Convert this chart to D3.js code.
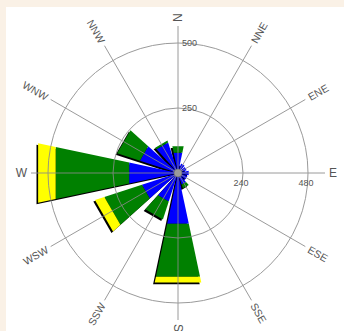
<!DOCTYPE html>
<html>
<head>
<meta charset="utf-8">
<script src="https://cdn.jsdelivr.net/npm/d3@7"></script>
<style>
  html, body { margin: 0; padding: 0; background: #faf1e6; }
  svg { display: block; }
  text { font-family: "Liberation Sans", Arial, sans-serif; fill: #555; }
</style>
</head>
<body>
<svg id="chart" width="344" height="331"></svg>
<script>
// ---- data ----
const directions = [0, 30, 60, 90, 120, 150, 180, 210, 240, 270, 300, 330];
const dirLabels = ["N", "NNE", "ENE", "E", "ESE", "SSE", "S", "SSW", "WSW", "W", "WNW", "NNW"];
const blueValues   = [80, 38, 35, 42, 38, 46, 200, 115, 146, 192, 154, 123];
const greenValues  = [25, 0, 0, 0, 0, 16, 208, 73, 152, 289, 92, 8];
const yellowValues = [0, 0, 0, 0, 0, 0, 23, 0, 38, 69, 0, 0];
const circleTicks = [250, 500];
const nTickLabels = ["250", "500"];
const eTickLabels = ["240", "480"];
const seriesColors = ["#0000ff", "#008000", "#ffff00"];

// ---- layout ----
const W = 344, H = 331;
const cx = 178, cy = 173;
const svg = d3.select("#chart");
svg.append("rect").attr("x", 6).attr("y", 7).attr("width", W - 6).attr("height", H - 7).attr("fill", "#fff");

const r = d3.scaleLinear().domain([0, 500]).range([0, 130]);
const halfWidth = 12 * Math.PI / 180;
const toRad = d => d * Math.PI / 180;
const g = svg.append("g").attr("transform", `translate(${cx},${cy})`);

const series = [blueValues, greenValues, yellowValues];
const stacked = directions.map((d, i) => {
  let acc = 0;
  return series.map(s => { const r0 = acc; acc += s[i]; return [r0, acc]; });
});

const radialPoly = d3.lineRadial().angle(p => p[0]).radius(p => p[1]).curve(d3.curveLinearClosed);
function wedge(angDeg, v0, v1) {
  const a = toRad(angDeg);
  return radialPoly([[a - halfWidth, r(v0)], [a - halfWidth, r(v1)], [a + halfWidth, r(v1)], [a + halfWidth, r(v0)]]);
}

// shadows
g.append("g").attr("transform", "translate(-1.6,1.6)")
  .selectAll("path").data(directions).join("path")
  .attr("d", (d, i) => wedge(d, 0, stacked[i][2][1]))
  .attr("fill", "#000");

// stacked segments
directions.forEach((d, i) => {
  stacked[i].forEach((seg, k) => {
    if (seg[1] - seg[0] <= 0) return;
    g.append("path").attr("d", wedge(d, seg[0], seg[1])).attr("fill", seriesColors[k]);
  });
});

// grid (drawn on top)
const grid = g.append("g").attr("stroke", "#8a8a8a").attr("fill", "none").attr("stroke-width", 1).attr("opacity", 0.85);
grid.selectAll("circle").data(circleTicks).join("circle").attr("r", d => r(d));
const spokeR = 147;
grid.selectAll("line").data(directions).join("line")
  .attr("x1", 0).attr("y1", 0)
  .attr("x2", d => spokeR * Math.cos(toRad(d - 90)))
  .attr("y2", d => spokeR * Math.sin(toRad(d - 90)));

// centre dot
g.append("circle").attr("r", 4).attr("fill", "#9a9a9a").attr("stroke", "#666").attr("stroke-width", 0.6);

// direction labels
const labelR = 151;
g.selectAll("text.dir").data(directions).join("text")
  .attr("class", "dir")
  .each(function (d, i) {
    const phi = d - 90;
    const x = labelR * Math.cos(toRad(phi)), y = labelR * Math.sin(toRad(phi));
    let rot = phi;
    if (rot > 90) rot -= 180;
    if (rot < -90) rot += 180;
    const left = Math.cos(toRad(phi)) < -1e-6;
    const cardinal = d % 90 === 0;
    d3.select(this)
      .attr("transform", `translate(${x},${y}) rotate(${rot})`)
      .attr("text-anchor", left ? "end" : "start")
      .attr("dominant-baseline", "central")
      .attr("font-size", cardinal ? 12 : 10.5)
      .text(dirLabels[i]);
  });

// radial tick labels (north axis)
g.selectAll("text.nt").data(circleTicks).join("text")
  .attr("class", "nt")
  .attr("x", 4).attr("y", d => -r(d))
  .attr("dominant-baseline", "central")
  .attr("font-size", 9)
  .text((d, i) => nTickLabels[i]);

// radial tick labels (east axis)
g.selectAll("text.et").data(circleTicks).join("text")
  .attr("class", "et")
  .attr("x", d => r(d) - 2).attr("y", 10)
  .attr("text-anchor", "middle")
  .attr("dominant-baseline", "central")
  .attr("font-size", 9)
  .text((d, i) => eTickLabels[i]);
</script>
</body>
</html>
